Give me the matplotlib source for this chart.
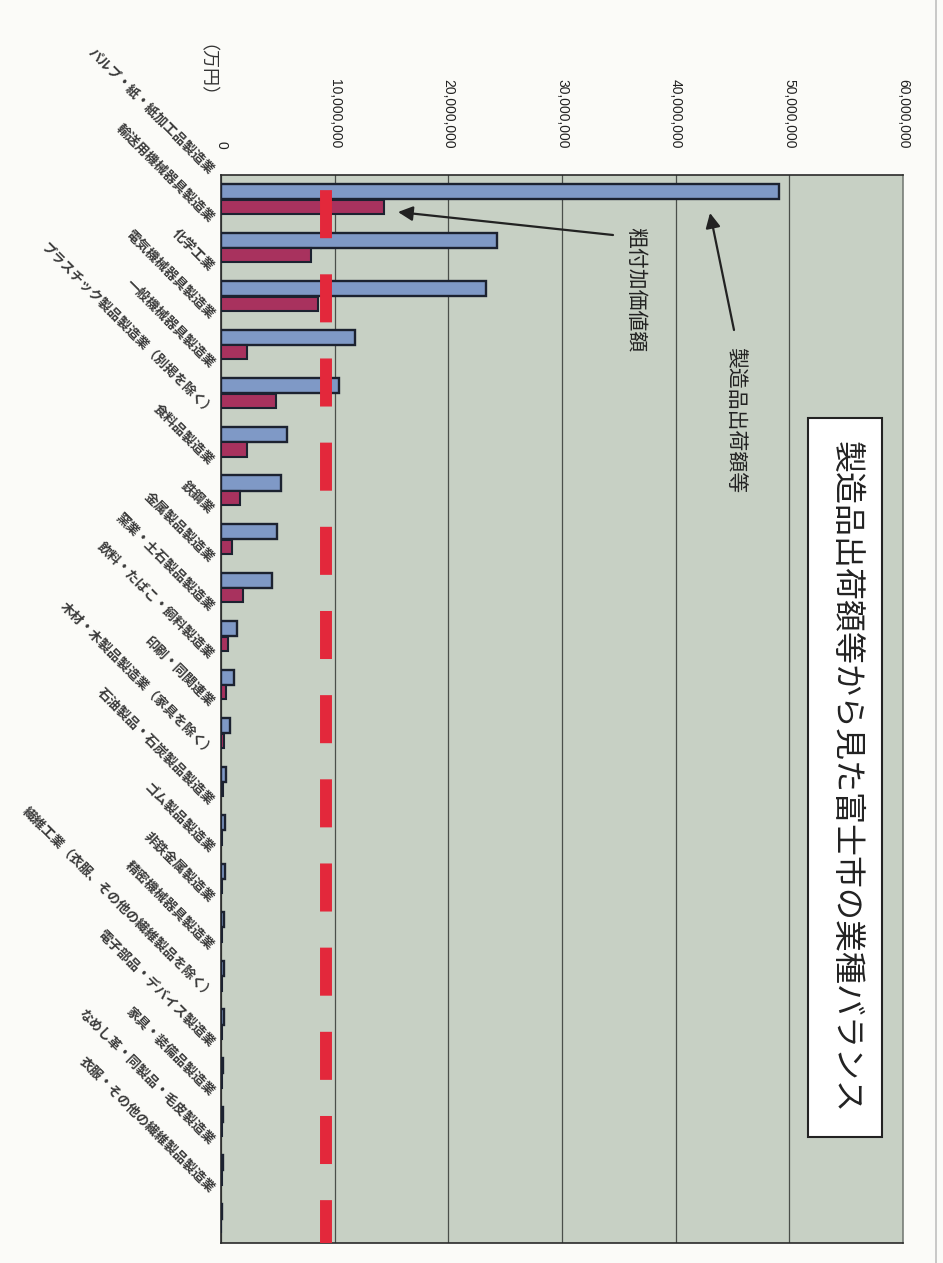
import matplotlib
matplotlib.use("Agg")
import matplotlib.pyplot as plt
from matplotlib.patches import Rectangle
from matplotlib.lines import Line2D
from matplotlib.transforms import blended_transform_factory, ScaledTranslation
import numpy as np

plt.rcParams['font.family'] = ['Noto Sans CJK JP', 'DejaVu Sans']
plt.rcParams['lines.scale_dashes'] = False

# ---- data (万円) ----
categories = [
    "パルプ・紙・紙加工品製造業",
    "輸送用機械器具製造業",
    "化学工業",
    "電気機械器具製造業",
    "一般機械器具製造業",
    "プラスチック製品製造業（別掲を除く）",
    "食料品製造業",
    "鉄鋼業",
    "金属製品製造業",
    "窯業・土石製品製造業",
    "飲料・たばこ・飼料製造業",
    "印刷・同関連業",
    "木材・木製品製造業（家具を除く）",
    "石油製品・石炭製品製造業",
    "ゴム製品製造業",
    "非鉄金属製造業",
    "精密機械器具製造業",
    "繊維工業（衣服、その他の繊維製品を除く）",
    "電子部品・デバイス製造業",
    "家具・装備品製造業",
    "なめし革・同製品・毛皮製造業",
    "衣服・その他の繊維製品製造業",
]
shipments = [49_100_000, 24_300_000, 23_300_000, 11_800_000, 10_400_000,
             5_800_000, 5_300_000, 4_900_000, 4_500_000, 1_400_000,
             1_100_000, 800_000, 400_000, 350_000, 350_000, 300_000,
             300_000, 250_000, 200_000, 200_000, 150_000, 100_000]
value_added = [14_300_000, 7_900_000, 8_500_000, 2_300_000, 4_800_000,
               2_300_000, 1_650_000, 970_000, 1_900_000, 630_000,
               400_000, 300_000, 150_000, 120_000, 120_000, 100_000,
               100_000, 80_000, 70_000, 60_000, 50_000, 40_000]
reference_level = 9_200_000
value_ticks = [0, 10_000_000, 20_000_000, 30_000_000, 40_000_000,
               50_000_000, 60_000_000]
unit_label = "（万円）"
title = "製造品出荷額等から見た富士市の業種バランス"
series_names = ["製造品出荷額等", "粗付加価値額"]

W, H = 943, 1263
BLUE = "#7f99c6"
RED = "#a8325e"
EDGE = "#1c2230"
PLOT_BG = "#c7d0c4"

fig = plt.figure(figsize=(W / 100, H / 100), dpi=100)
fig.patch.set_facecolor("#fbfbf8")

# plot area in pixels: x 221..903, y 175..1243 (from top)
ax = fig.add_axes([221 / W, (H - 1243) / H, (903 - 221) / W, (1243 - 175) / H])
ax.set_facecolor(PLOT_BG)

n = len(categories)
y = np.arange(n)
ax.barh(y - 0.155, shipments, height=0.31, color=BLUE, edgecolor=EDGE,
        linewidth=1.7, zorder=3)
ax.barh(y + 0.155, value_added, height=0.29, color=RED, edgecolor=EDGE,
        linewidth=1.5, zorder=3)

ax.set_ylim(n - 0.5, -0.5)
ax.set_xlim(value_ticks[0], value_ticks[-1])

# reference level as a heavy dashed red line
ax.plot([reference_level, reference_level], [-0.5, n - 0.5], color="#e3283b",
        lw=8.6, linestyle=(49.7, (34.6, 26.0)), solid_capstyle="butt",
        zorder=4)

# value axis along the top
ax.xaxis.tick_top()
ax.set_xticks(value_ticks)
ax.set_xticklabels([f"{v:,}" for v in value_ticks], rotation=-90,
                   va="bottom", ha="center", fontsize=10,
                   family=["Liberation Sans", "DejaVu Sans"], color="#222")
ax.tick_params(axis="x", length=0, pad=19)
ax.set_yticks([])
ax.xaxis.grid(True, color="#4a4f4a", lw=0.9)
ax.set_axisbelow(True)
for side, sp in ax.spines.items():
    sp.set_color("#2a2a2a")
    sp.set_linewidth(1.2)
ax.spines["right"].set_color("#7a807a")

# category labels, slanted, ending at the axis
trans = blended_transform_factory(ax.transAxes, ax.transData) + \
    ScaledTranslation(-9 / 100, 28 / 100, fig.dpi_scale_trans)
for i, name in enumerate(categories):
    ax.text(0, i, name, transform=trans, rotation=-45, rotation_mode="anchor",
            ha="right", va="center", fontsize=9.5, fontweight="bold",
            color="#3a3a3a")

# unit label
fig.text(196 / W, 1 - 80 / H, unit_label, rotation=-90, ha="center",
         va="center", fontsize=13, color="#333")

# callouts
def px2data(px, py):
    xv = (px - 221) / (903 - 221) * value_ticks[-1]
    yv = (py - 175) / (1243 - 175) * n - 0.5
    return xv, yv

arrow_kw = dict(arrowstyle="-|>", color="#222", lw=1.6, mutation_scale=22,
                shrinkA=0, shrinkB=0)
ax.annotate("", xy=px2data(710, 213), xytext=px2data(734, 330),
            arrowprops=arrow_kw, zorder=5)
tx, ty = px2data(735, 347)
ax.text(tx, ty, series_names[0], rotation=-90, ha="center", va="top",
        fontsize=15, color="#222", zorder=5)

ax.annotate("", xy=px2data(398, 212), xytext=px2data(613, 235),
            arrowprops=arrow_kw, zorder=5)
tx, ty = px2data(635, 227)
ax.text(tx, ty, series_names[1], rotation=-90, ha="center", va="top",
        fontsize=15, color="#222", zorder=5)

# title box
fig.add_artist(Rectangle((808 / W, 1 - 1137 / H), 74 / W, (1137 - 418) / H,
                         transform=fig.transFigure, facecolor="white",
                         edgecolor="#222", lw=1.5, zorder=6))
fig.text(846 / W, 1 - 777 / H, title, rotation=-90, ha="center", va="center",
         fontsize=23, color="#222", zorder=7)

# page edge
fig.add_artist(Line2D([936 / W, 936 / W], [0, 1], transform=fig.transFigure,
                      color="#bfbfbf", lw=1.2))

fig.savefig("out.png", dpi=100, facecolor=fig.get_facecolor())
